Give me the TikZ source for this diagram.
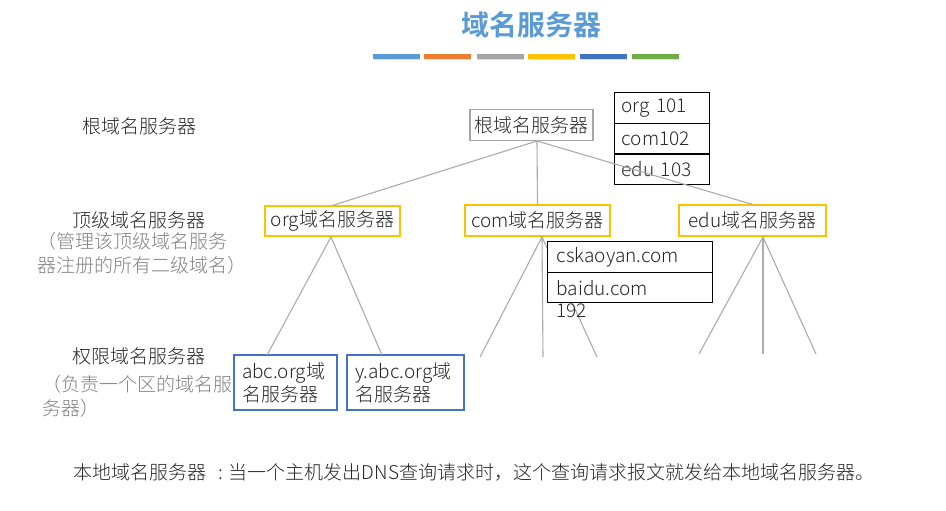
\documentclass[tikz,border=0pt]{standalone}
\usepackage{fontspec}
\setmainfont{Noto Sans CJK SC Light}[BoldFont={Noto Sans CJK SC Bold}]
\definecolor{ttlblue}{HTML}{5B9BD5}
\definecolor{barorange}{HTML}{ED7D31}
\definecolor{bargray}{HTML}{A5A5A5}
\definecolor{bargold}{HTML}{FFC000}
\definecolor{bardark}{HTML}{4472C4}
\definecolor{bargreen}{HTML}{70AD47}
\definecolor{linegray}{HTML}{ABABAB}
\definecolor{notegray}{HTML}{808080}
\definecolor{ink}{HTML}{262626}
\begin{document}
\begin{tikzpicture}[x=1pt,y=-1pt,
  txt/.style={font=\fontsize{19}{23}\selectfont, text=ink, inner sep=0pt},
  note/.style={font=\fontsize{19}{24}\selectfont, text=notegray, inner sep=0pt, align=left},
  rootbox/.style={txt, draw=bargray, line width=1.2pt},
  tldbox/.style={txt, draw=bargold, line width=1.2pt},
  zonebox/.style={txt, draw=bardark, line width=1.2pt, align=left, inner xsep=8pt, minimum height=55pt},
  cell/.style={txt, draw=black, line width=1.3pt, align=left, inner xsep=7pt, minimum height=31pt},
  tree/.style={draw=linegray, line width=1.1pt},
  bar/.style={line width=4.5pt}
]
\useasboundingbox (0,0) rectangle (946,511);

% title and colour bars
\node[font=\fontsize{28}{30}\selectfont\bfseries, text=ttlblue, inner sep=0pt] (title) at (531,25) {域名服务器};
\foreach \x/\c in {373/ttlblue,424/barorange,477/bargray,528/bargold,580/bardark,632/bargreen}{
  \draw[bar, black!25, opacity=0.5] (\x+1,58) -- (\x+47,58);
  \draw[bar, \c] (\x,56.5) -- (\x+47,56.5);
}

% level captions on the left
\node[txt] (lvlroot) at (139,126) {根域名服务器};
\node[txt] (lvltld) at (139,220) {顶级域名服务器};
\node[note, anchor=north west] (lvltldnote) at (37,232) {（管理该顶级域名服务\\器注册的所有二级域名）};
\node[txt] (lvlzone) at (139,356) {权限域名服务器};
\node[note, anchor=north west] (lvlzonenote) at (42,375) {（负责一个区的域名服\\务器）};

% root server and its table
\node[rootbox, minimum width=123pt, minimum height=31pt] (root) at (531.5,125) {根域名服务器};
\node[cell, text width=81pt, anchor=north west] (r1) at (614,92) {org 101};
\node[cell, text width=81pt, anchor=north west] (r2) at (614,123) {com102};
\node[cell, text width=81pt, anchor=north west] (r3) at (614,153) {edu 103};

% top-level domain servers
\node[tldbox, minimum width=135pt, minimum height=30pt] (org) at (332.5,221) {org域名服务器};
\node[tldbox, minimum width=145pt, minimum height=31pt] (com) at (537.5,220.5) {com域名服务器};
\node[tldbox, minimum width=147pt, minimum height=31pt] (edu) at (752.5,220.5) {edu域名服务器};

% hubs and free ends of the tree lines
\coordinate (rh) at (537,141);
\coordinate (oh) at (331,237);
\coordinate (ch) at (542,237);
\coordinate (eh) at (763,237);
\coordinate (c1) at (480,357);
\coordinate (c2) at (543,357);
\coordinate (c3) at (597,357);
\coordinate (e1) at (699,354);
\coordinate (e2) at (763,354);
\coordinate (e3) at (816,354);

% zone servers
\node[zonebox, text width=87pt] (abc) at (285.5,382.5) {abc.org域\\名服务器};
\node[zonebox, text width=101pt] (yabc) at (405.5,382.5) {y.abc.org域\\名服务器};
\coordinate (abctop) at (267,355);
\coordinate (yabctop) at (382,355);

% tree lines
\draw[tree] (rh) -- (org.north);
\draw[tree] (rh) -- (com.north);
\draw[tree] (rh) -- (edu.north);
\draw[tree] (oh) -- (abctop);
\draw[tree] (oh) -- (yabctop);
\draw[tree] (ch) -- (c1);
\draw[tree] (ch) -- (c2);
\draw[tree] (ch) -- (c3);
\draw[tree] (eh) -- (e1);
\draw[tree] (eh) -- (e2);
\draw[tree] (eh) -- (e3);

% com server table, covering the lines behind it
\node[cell, fill=white, text width=147pt, inner xsep=9pt, anchor=north west] (c1row) at (547,241) {cskaoyan.com};
\node[cell, fill=white, text width=147pt, inner xsep=9pt, anchor=north west, minimum height=30pt] (c2row) at (547,272) {baidu.com};
\node[txt, anchor=west] (c2ip) at (556,311) {192};

% local name server remark
\node[txt, anchor=west] (local) at (73,472) {本地域名服务器\hspace{12pt}:\hspace{6pt}当一个主机发出DNS查询请求时，这个查询请求报文就发给本地域名服务器。};
\end{tikzpicture}
\end{document}
